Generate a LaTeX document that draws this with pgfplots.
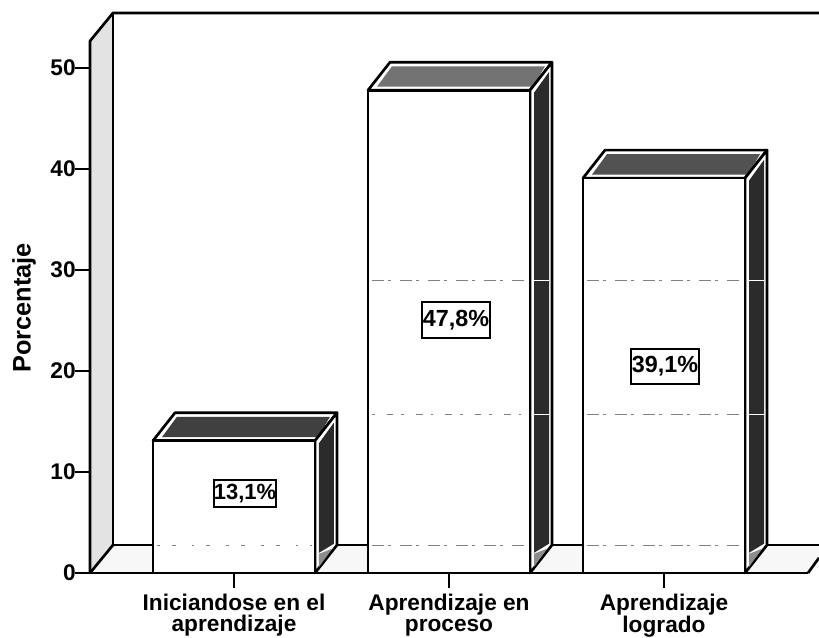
\documentclass[border=0pt]{standalone}
\usepackage{fontspec}
\setmainfont{Liberation Sans}
\usepackage{pgfplots}
\pgfplotsset{compat=1.18}
\definecolor{wallgray}{gray}{0.89}
\definecolor{sidegray}{gray}{0.17}
\definecolor{lowgray}{gray}{0.55}
\newcommand{\lblfont}{\fontsize{17}{15.75}\bfseries\selectfont}
\tikzset{
  valbox/.style={draw=black, fill=white, line width=1.6pt, inner sep=0pt, minimum width=50.5pt, minimum height=26.5pt, font=\fontsize{17.5}{17.5}\bfseries\selectfont},
  valboxsmall/.style={valbox, minimum width=45pt, minimum height=20.5pt, font=\fontsize{16.5}{16.5}\bfseries\selectfont},
}
\begin{document}
\begin{tikzpicture}
\begin{axis}[
    scale only axis,
    width=546.75pt,
    height=429.75pt,
    xmin=90, xmax=819,
    ymin=0, ymax=56.733,
    clip=false,
    axis line style={draw=none},
    xtick={234,449,664},
    xticklabels={{Iniciandose en el\\aprendizaje},{Aprendizaje en\\proceso},{Aprendizaje\\logrado}},
    ytick={0,10,20,30,40,50},
    tick align=outside,
    tick pos=left,
    major tick length=11.25pt,
    tick style={draw=black, line width=2pt},
    /pgf/number format/assume math mode=true,
    xticklabel style={font=\lblfont, align=center, yshift=-1pt},
    yticklabel style={font=\lblfont, xshift=4pt},
    ylabel={Porcentaje},
    ylabel style={font=\fontsize{19}{19}\bfseries\selectfont, at={(axis description cs:-0.0905,0.4625)}, anchor=center},
    every axis plot/.append style={line join=round},
]
% side wall, floor, back lines
\addplot[fill=wallgray, draw=none] coordinates {(90,0) (90,52.67) (113,55.45) (113,2.77)} --cycle;
\addplot[fill=black!3, draw=none] coordinates {(90,0) (113,2.77) (819,2.77) (819,1.5) (808,0)} --cycle;
\addplot[black, line width=2pt] coordinates {(90,0) (90,52.67) (113,55.45) (819,55.45)};
\addplot[black, line width=2pt] coordinates {(113,55.45) (113,2.77) (819,2.77)};
\addplot[black, line width=2pt] coordinates {(90,0) (113,2.77)};
\addplot[black, line width=2pt] coordinates {(808,0) (819,1.5)};

% bar 1: top and side faces
\addplot[fill=white, draw=black, line width=2pt] coordinates {(153,13.1) (175,15.87) (337,15.87) (315,13.1)} --cycle;
\addplot[fill=black!75, draw=none] coordinates {(162,13.45) (177,15.47) (330,15.47) (318,13.45)} --cycle;
\addplot[fill=white, draw=black, line width=2pt] coordinates {(315,0) (337,2.77) (337,15.87) (315,13.1)} --cycle;
\addplot[fill=sidegray, draw=none] coordinates {(319,2.0) (334,2.9) (334,14.9) (319,12.85)} --cycle;
\addplot[fill=lowgray, draw=none] coordinates {(319,0.6) (332,2.4) (319,1.9)} --cycle;

% bar 2
\addplot[fill=white, draw=black, line width=2pt] coordinates {(368,47.8) (390,50.57) (552,50.57) (530,47.8)} --cycle;
\addplot[fill=black!55, draw=none] coordinates {(377,48.15) (392,50.17) (545,50.17) (533,48.15)} --cycle;
\addplot[fill=white, draw=black, line width=2pt] coordinates {(530,0) (552,2.77) (552,50.57) (530,47.8)} --cycle;
\addplot[fill=sidegray, draw=none] coordinates {(534,2.0) (549,2.9) (549,49.6) (534,47.55)} --cycle;
\addplot[fill=lowgray, draw=none] coordinates {(534,0.6) (547,2.4) (534,1.9)} --cycle;

% bar 3
\addplot[fill=white, draw=black, line width=2pt] coordinates {(583,39.1) (605,41.87) (767,41.87) (745,39.1)} --cycle;
\addplot[fill=black!68, draw=none] coordinates {(592,39.45) (607,41.47) (760,41.47) (748,39.45)} --cycle;
\addplot[fill=white, draw=black, line width=2pt] coordinates {(745,0) (767,2.77) (767,41.87) (745,39.1)} --cycle;
\addplot[fill=sidegray, draw=none] coordinates {(749,2.0) (764,2.9) (764,40.9) (749,38.85)} --cycle;
\addplot[fill=lowgray, draw=none] coordinates {(749,0.6) (762,2.4) (749,1.9)} --cycle;

% front faces
\addplot[ybar, bar width=121.5pt, bar shift=0pt, fill=white, draw=black, line width=2pt] coordinates {(234,13.1)};
\addplot[ybar, bar width=121.5pt, bar shift=0pt, fill=white, draw=black, line width=2pt] coordinates {(449,47.8)};
\addplot[ybar, bar width=121.5pt, bar shift=0pt, fill=white, draw=black, line width=2pt] coordinates {(664,39.1)};

% broken gridlines left by the scan
\addplot[gray, line width=0.7pt, dash pattern=on 9pt off 3pt on 2pt off 7pt] coordinates {(372,29) (527,29)};
\addplot[gray, line width=0.7pt, dash pattern=on 9pt off 3pt on 2pt off 7pt] coordinates {(587,29) (742,29)};
\addplot[gray, line width=0.7pt, dash pattern=on 2pt off 9pt on 5pt off 6pt] coordinates {(372,15.7) (527,15.7)};
\addplot[gray, line width=0.7pt, dash pattern=on 9pt off 3pt on 2pt off 7pt] coordinates {(587,15.7) (742,15.7)};
\addplot[gray, line width=0.7pt, dash pattern=on 2pt off 9pt on 3pt off 12pt] coordinates {(157,2.7) (312,2.7)};
\addplot[gray, line width=0.7pt, dash pattern=on 9pt off 3pt on 2pt off 7pt] coordinates {(372,2.7) (527,2.7)};
\addplot[gray, line width=0.7pt, dash pattern=on 9pt off 3pt on 2pt off 7pt] coordinates {(587,2.7) (742,2.7)};
% same lines show white across the dark sides
\addplot[white, line width=0.9pt] coordinates {(534,29) (549,29)};
\addplot[white, line width=0.9pt] coordinates {(534,15.7) (549,15.7)};
\addplot[white, line width=0.9pt] coordinates {(749,29) (764,29)};
\addplot[white, line width=0.9pt] coordinates {(749,15.7) (764,15.7)};

% floor front edge
\addplot[black, line width=2.2pt] coordinates {(90,0) (808,0)};

\node[valboxsmall] at (axis cs:245,7.85) {13,1\%};
\node[valbox] at (axis cs:456,25.05) {47,8\%};
\node[valbox] at (axis cs:665,20.45) {39,1\%};
\end{axis}
\pgfresetboundingbox
\path[use as bounding box] (-67.5pt,-48pt) rectangle (546.75pt,429.75pt);
\end{tikzpicture}
\end{document}
